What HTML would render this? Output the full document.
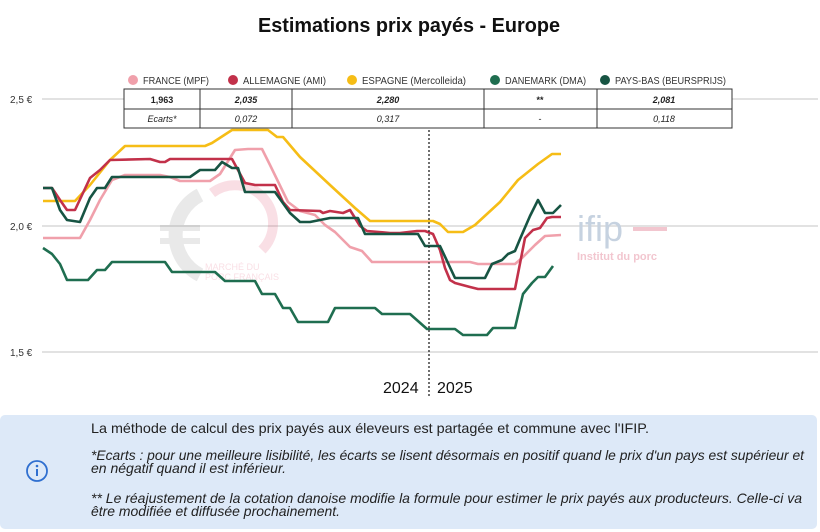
<!DOCTYPE html>
<html><head><meta charset="utf-8"><style>
body{margin:0;background:#fff;width:820px;height:532px;overflow:hidden}
svg{display:block}
.n{font-family:"Liberation Sans Narrow","Liberation Sans",sans-serif}
.s{font-family:"Liberation Sans",sans-serif}
</style></head><body>
<svg width="820" height="532" viewBox="0 0 820 532" xmlns="http://www.w3.org/2000/svg">
<text x="409" y="32" text-anchor="middle" class="s" font-size="20" font-weight="bold" fill="#111" textLength="302" lengthAdjust="spacingAndGlyphs">Estimations prix payés - Europe</text>
<line x1="42" y1="99" x2="818" y2="99" stroke="#d0d0d0" stroke-width="1.2"/>
<line x1="42" y1="226" x2="818" y2="226" stroke="#d0d0d0" stroke-width="1.2"/>
<line x1="42" y1="352" x2="818" y2="352" stroke="#d0d0d0" stroke-width="1.2"/>
<g class="n" font-size="10" fill="#333">
<text x="10" y="103">2,5 €</text><text x="10" y="230">2,0 €</text><text x="10" y="356">1,5 €</text>
</g>
<g opacity="0.18">
<path d="M200 195 A45 45 0 0 0 200 275" stroke="#888" stroke-width="14" fill="none"/>
<rect x="160" y="225" width="40" height="6" fill="#888"/><rect x="160" y="238" width="40" height="6" fill="#888"/>
<path d="M212 193 A38 38 0 0 1 262 250" stroke="#e05070" stroke-width="10" fill="none"/>
<text x="205" y="270" class="s" font-size="9" fill="#e05070">MARCHÉ DU</text>
<text x="205" y="280" class="s" font-size="9" fill="#e05070">PORC FRANÇAIS</text>
</g>
<text x="577" y="241" class="s" font-size="36" fill="#c6d2e0">ifip</text>
<rect x="633" y="227" width="34" height="4" fill="#f2c6cf"/>
<text x="577" y="260" class="s" font-size="11" font-weight="bold" fill="#f2c6cf">Institut du porc</text>
<g fill="none" stroke-width="2.6" stroke-linejoin="round">
<polyline stroke="#f0a0ab" points="43,238 80,238 90,220 100,200 112,180 125,175 160,175 170,177 180,181 210,181 220,174 235,150 248,149 262,149 270,165 288,202 300,211 315,215 325,225 335,232 350,247 362,251 372,262 470,262 478,264 515,264 522,258 535,245 545,236 561,235"/>
<polyline stroke="#f6bd16" points="43,201 75,201 90,185 110,160 125,146 205,146 212,143 232,130 268,130 277,137 283,137 300,157 330,185 355,208 370,221 433,221 440,224 448,232 463,232 475,225 500,202 518,180 538,164 552,154 561,154"/>
<polyline stroke="#c2314a" points="43,188 52,188 60,200 67,210 75,210 90,178 100,170 110,160 150,159 160,162 165,162 170,159 232,159 245,183 255,185 275,185 283,202 290,210 320,211 323,213 330,211 343,213 350,210 360,226 367,231 390,233 400,233 417,231 425,231 433,234 440,250 445,268 450,280 455,283 470,287 478,289 515,289 525,238 533,230 540,228 547,218 552,217 561,217"/>
<polyline stroke="#1f6e50" points="43,248 52,254 60,264 67,280 88,280 97,270 105,270 112,262 165,262 172,272 215,272 225,281 255,281 262,294 275,294 283,308 290,308 298,322 328,322 335,308 375,308 382,314 410,314 427,329 455,329 463,335 487,335 493,328 515,328 523,294 532,283 538,277 545,277 553,266"/>
<polyline stroke="#175443" points="43,188 52,188 60,210 67,220 80,222 90,198 97,188 105,188 112,177 190,177 200,170 215,170 222,162 232,168 238,168 245,192 275,192 290,213 300,222 310,222 320,220 330,218 358,218 365,234 418,234 425,246 440,246 455,278 485,278 492,264 502,260 508,254 515,251 520,239 530,216 538,200 545,213 553,213 561,205"/>
</g>
<line x1="429" y1="130" x2="429" y2="398" stroke="#222" stroke-width="1.3" stroke-dasharray="2,2"/>
<text x="383" y="393" class="s" font-size="16" fill="#111">2024</text>
<text x="437" y="393" class="s" font-size="16" fill="#111">2025</text>
<g class="n" font-size="10" fill="#333">
<circle cx="133" cy="80" r="5" fill="#f0a0ab"/><text x="143" y="84" textLength="66" lengthAdjust="spacingAndGlyphs">FRANCE (MPF)</text>
<circle cx="233" cy="80" r="5" fill="#c2314a"/><text x="243" y="84" textLength="83" lengthAdjust="spacingAndGlyphs">ALLEMAGNE (AMI)</text>
<circle cx="352" cy="80" r="5" fill="#f6bd16"/><text x="362" y="84" textLength="104" lengthAdjust="spacingAndGlyphs">ESPAGNE (Mercolleida)</text>
<circle cx="495" cy="80" r="5" fill="#1f6e50"/><text x="505" y="84" textLength="81" lengthAdjust="spacingAndGlyphs">DANEMARK (DMA)</text>
<circle cx="605" cy="80" r="5" fill="#175443"/><text x="615" y="84" textLength="111" lengthAdjust="spacingAndGlyphs">PAYS-BAS (BEURSPRIJS)</text>
</g>
<g stroke="#333" stroke-width="1" fill="#fff">
<rect x="124" y="89" width="608" height="39"/>
<line x1="124" y1="109" x2="732" y2="109"/>
<line x1="200" y1="89" x2="200" y2="128"/><line x1="292" y1="89" x2="292" y2="128"/>
<line x1="484" y1="89" x2="484" y2="128"/><line x1="597" y1="89" x2="597" y2="128"/>
</g>
<g class="n" font-size="9" fill="#222" text-anchor="middle">
<text x="162" y="103" font-weight="bold">1,963</text>
<text x="246" y="103" font-weight="bold" font-style="italic">2,035</text>
<text x="388" y="103" font-weight="bold" font-style="italic">2,280</text>
<text x="540" y="103" font-weight="bold">**</text>
<text x="664" y="103" font-weight="bold" font-style="italic">2,081</text>
<text x="162" y="122" font-style="italic">Ecarts*</text>
<text x="246" y="122" font-style="italic">0,072</text>
<text x="388" y="122" font-style="italic">0,317</text>
<text x="540" y="122">-</text>
<text x="664" y="122" font-style="italic">0,118</text>
</g>
<rect x="0" y="415" width="817" height="114" rx="5" fill="#dde9f8"/>
<circle cx="37" cy="471" r="10" fill="none" stroke="#2f6fd0" stroke-width="1.8"/>
<circle cx="37" cy="466" r="1.3" fill="#2f6fd0"/><rect x="36" y="469" width="2" height="7" fill="#2f6fd0"/>
<g class="n" font-size="14" fill="#222" lengthAdjust="spacingAndGlyphs">
<text x="91" y="433" textLength="558" lengthAdjust="spacingAndGlyphs">La méthode de calcul des prix payés aux éleveurs est partagée et commune avec l'IFIP.</text>
<text x="91" y="460" font-style="italic" textLength="713" lengthAdjust="spacingAndGlyphs">*Ecarts : pour une meilleure lisibilité, les écarts se lisent désormais en positif quand le prix d'un pays est supérieur et</text>
<text x="91" y="473" font-style="italic" textLength="195" lengthAdjust="spacingAndGlyphs">en négatif quand il est inférieur.</text>
<text x="91" y="503" font-style="italic" textLength="711" lengthAdjust="spacingAndGlyphs">** Le réajustement de la cotation danoise modifie la formule pour estimer le prix payés aux producteurs. Celle-ci va</text>
<text x="91" y="516" font-style="italic" textLength="249" lengthAdjust="spacingAndGlyphs">être modifiée et diffusée prochainement.</text>
</g>
</svg>
</body></html>
